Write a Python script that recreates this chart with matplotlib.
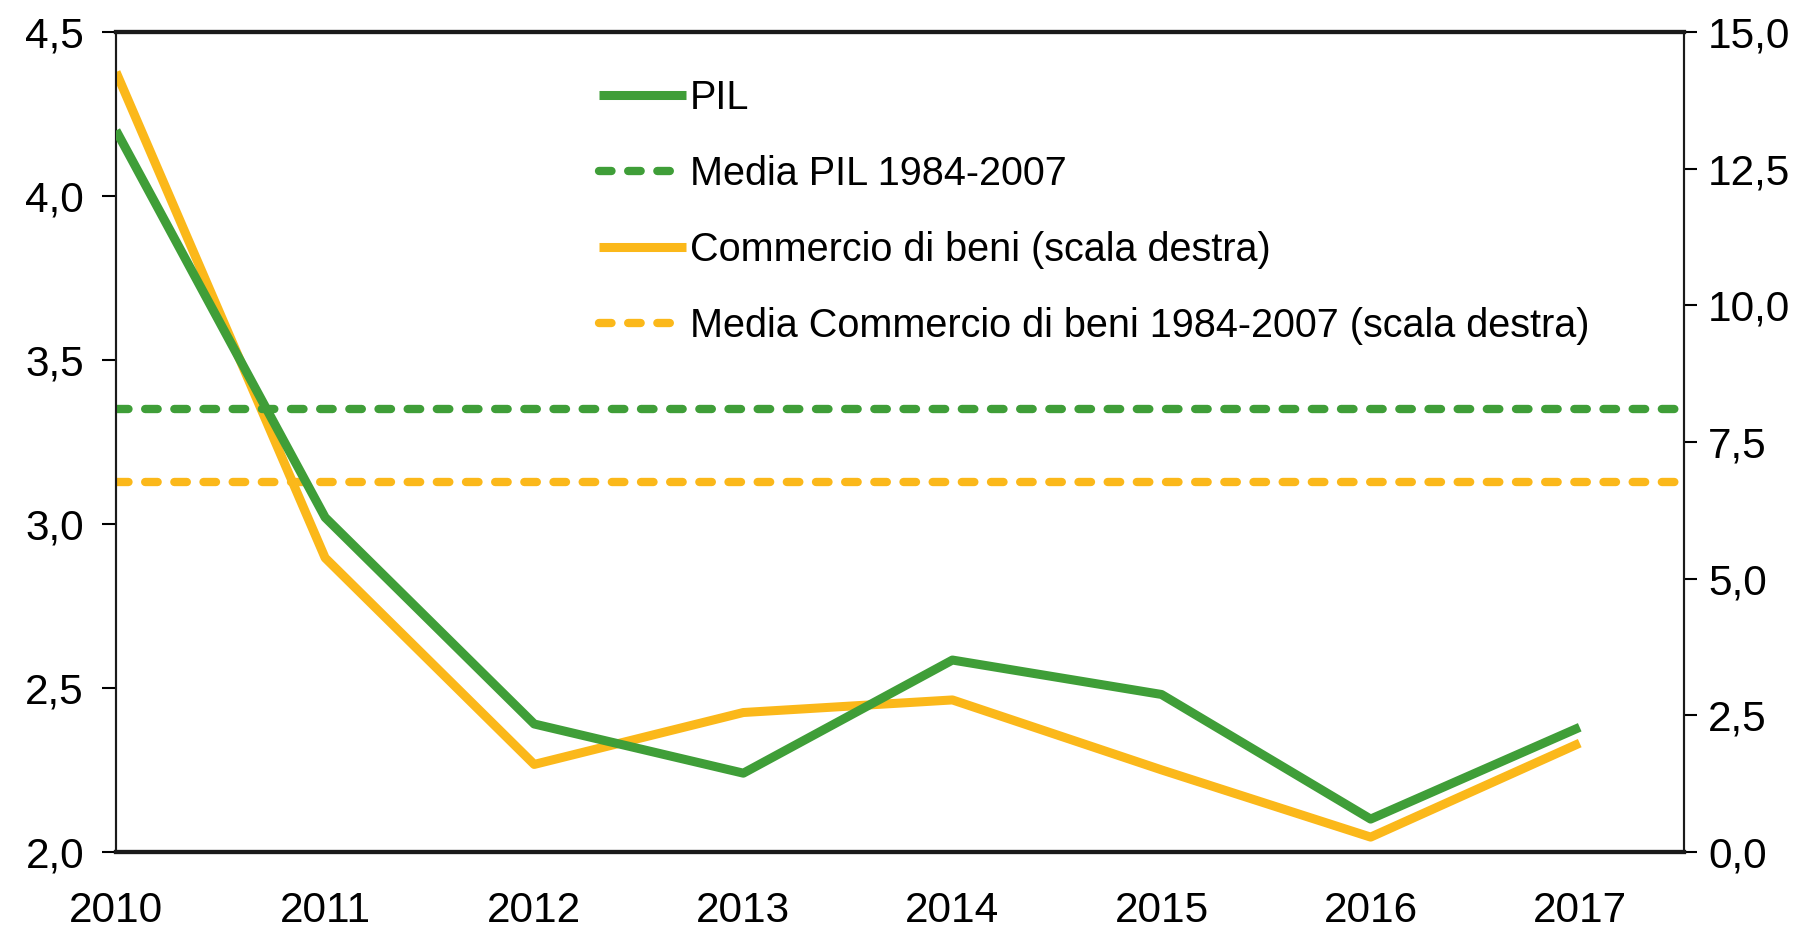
import matplotlib
matplotlib.use('Agg')
import matplotlib.pyplot as plt
from matplotlib.ticker import FuncFormatter

# Data
years = ['2010', '2011', '2012', '2013', '2014', '2015', '2016', '2017']
pil = [4.20, 3.02, 2.39, 2.24, 2.585, 2.48, 2.10, 2.38]
pil_media = 3.35
commercio = [14.27, 5.38, 1.60, 2.55, 2.78, 1.50, 0.27, 1.99]
commercio_media = 6.76

green = '#3f9e38'
yellow = '#fbb81a'

plt.rcParams['font.family'] = ['Liberation Sans', 'DejaVu Sans']

fig = plt.figure(figsize=(18.13, 9.31), dpi=100)
ax = fig.add_axes([0.064, 0.085, 0.865, 0.8805])
ax2 = ax.twinx()

x = list(range(len(years)))
dash = dict(dashes=(1.5, 2.0), dash_capstyle='round')

l1, = ax.plot(x, pil, color=green, lw=6.5, solid_capstyle='butt', label='PIL', zorder=3)
l2 = ax.axhline(pil_media, color=green, lw=6, label='Media PIL 1984-2007', **dash)
l3, = ax2.plot(x, commercio, color=yellow, lw=6.5, solid_capstyle='butt',
               label='Commercio di beni (scala destra)', zorder=3)
l4 = ax2.axhline(commercio_media, color=yellow, lw=6,
                 label='Media Commercio di beni 1984-2007 (scala destra)', **dash)
ax.set_zorder(ax2.get_zorder() + 1)
ax.patch.set_visible(False)

ax.set_xlim(0, 7.5)
ax.set_ylim(2.0, 4.5)
ax2.set_ylim(0, 15)
ax.set_yticks([2.0, 2.5, 3.0, 3.5, 4.0, 4.5])
ax2.set_yticks([0, 2.5, 5, 7.5, 10, 12.5, 15])
comma = FuncFormatter(lambda v, p: f'{v:.1f}'.replace('.', ','))
ax.yaxis.set_major_formatter(comma)
ax2.yaxis.set_major_formatter(comma)
ax.set_xticks(x)
ax.set_xticklabels(years)

ax.tick_params(axis='x', length=0, pad=28, labelsize=30.5)
ax.tick_params(axis='y', length=10, width=1.5, pad=13, labelsize=30.5)
ax2.tick_params(axis='y', length=9, width=1.5, pad=8, labelsize=30.5)

for a in (ax, ax2):
    a.spines['top'].set_linewidth(3)
    a.spines['bottom'].set_linewidth(3)
    a.spines['left'].set_linewidth(1.5)
    a.spines['right'].set_linewidth(1.5)
    for s in a.spines.values():
        s.set_color('#1a1a1a')

ax.legend(handles=[l1, l2, l3, l4], loc='upper left', bbox_to_anchor=(0.285, 0.986),
          frameon=False, fontsize=28.5, handlelength=2.2, handletextpad=0.1,
          labelspacing=0.96)

fig.savefig('out.png', dpi=100)
